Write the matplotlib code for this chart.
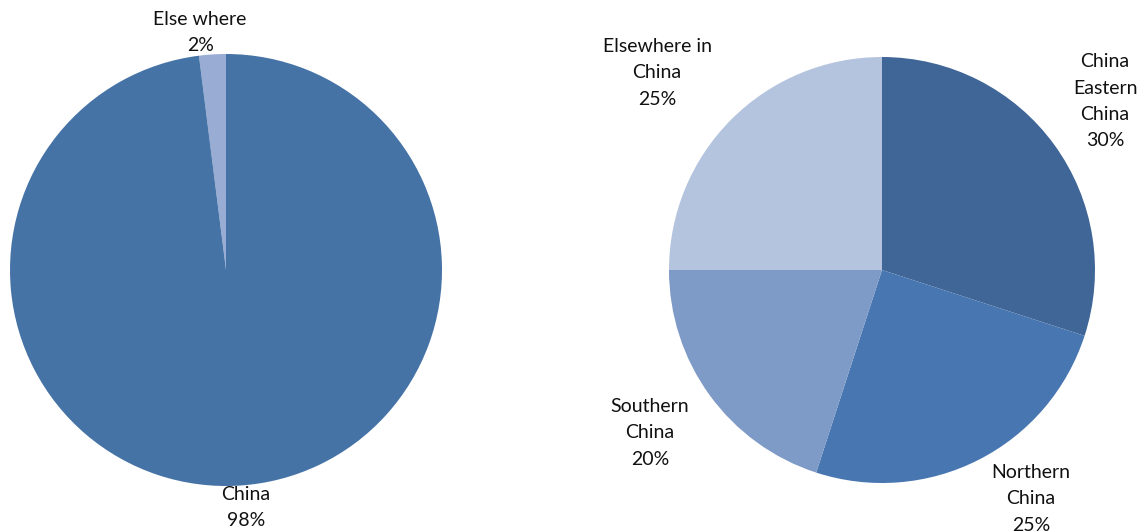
import matplotlib
matplotlib.use("Agg")
import matplotlib.pyplot as plt

plt.rcParams['font.family'] = ['Lato', 'DejaVu Sans']

# left pie: China vs elsewhere
left_labels = ["Else where", "China"]
left_values = [2, 98]
left_colors = ["#98acd4", "#4673a6"]

# right pie: regions within China
right_labels = ["China\nEastern\nChina", "Northern\nChina", "Southern\nChina", "Elsewhere in\nChina"]
right_values = [30, 25, 20, 25]
right_colors = ["#3f6697", "#4876b0", "#7e9ac7", "#b4c3de"]

# label anchor points in pie-radius units
left_label_pos = [(-0.12, 1.10), (0.093, -1.10)]
right_label_pos = [(1.047, 0.793), (0.70, -1.075), (-1.089, -0.765), (-1.056, 0.925)]

W, H = 1140, 532
fig = plt.figure(figsize=(W / 100, H / 100), dpi=100)

def pie_axes(cx, cy, r):
    return fig.add_axes([(cx - r) / W, (H - cy - r) / H, 2 * r / W, 2 * r / H])

ax1 = pie_axes(226, 270, 216)
ax1.pie(left_values, colors=left_colors, startangle=90, counterclock=True,
        radius=1, wedgeprops=dict(linewidth=0))
for lab, v, (x, y) in zip(left_labels, left_values, left_label_pos):
    ax1.text(x, y, f"{lab}\n{v}%", ha='center', va='center', fontsize=14,
             linespacing=1.65, color='#111111', clip_on=False)
ax1.set_xlim(-1, 1)
ax1.set_ylim(-1, 1)
ax1.axis('off')

ax2 = pie_axes(882, 270, 213)
ax2.pie(right_values, colors=right_colors, startangle=90, counterclock=False,
        radius=1, wedgeprops=dict(linewidth=0))
for lab, v, (x, y) in zip(right_labels, right_values, right_label_pos):
    ax2.text(x, y, f"{lab}\n{v}%", ha='center', va='center', fontsize=14,
             linespacing=1.65, color='#111111', clip_on=False)
ax2.set_xlim(-1, 1)
ax2.set_ylim(-1, 1)
ax2.axis('off')

fig.savefig("out.png", dpi=100)
